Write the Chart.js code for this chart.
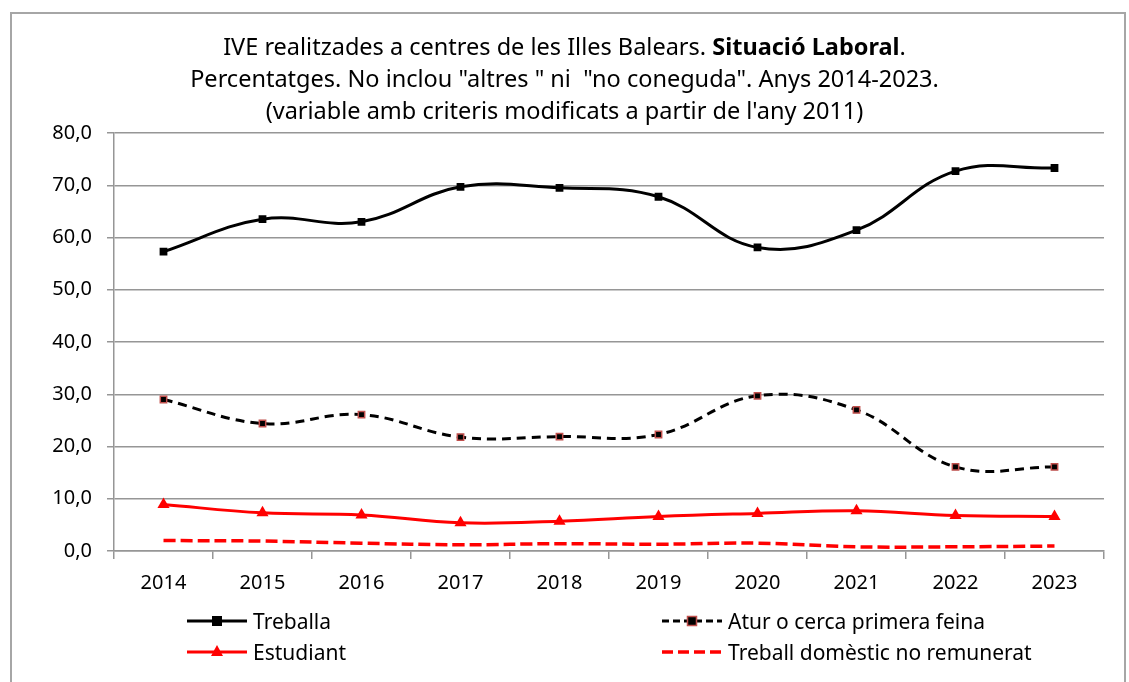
<!DOCTYPE html>
<html>
<head>
<meta charset="utf-8">
<script src="https://cdn.jsdelivr.net/npm/chart.js@4/dist/chart.umd.min.js"></script>
<style>
  html, body { margin: 0; padding: 0; background: #fff; }
  body { width: 1129px; height: 682px; position: relative; overflow: hidden; font-family: "Noto Sans", "Open Sans", sans-serif; color: #000; }
  #frame { position: absolute; left: 10px; top: 12px; width: 1116px; height: 700px; border: 2px solid #a6a6a6; box-sizing: border-box; }
  #title { position: absolute; left: 0; top: 30px; width: 1129px; text-align: center; font-size: 23.5px; line-height: 32px; }
  #chartBox { position: absolute; left: 0; top: 0; width: 1129px; height: 682px; }
  .legendItem { position: absolute; font-size: 21px; line-height: 24px; display: flex; align-items: center; white-space: nowrap; }
  .legendItem svg { margin-right: 6px; }
</style>
</head>
<body>
<div id="frame"></div>
<div id="chartBox"><canvas id="chart" width="1129" height="682"></canvas></div>
<div id="title">
  IVE realitzades a centres de les Illes Balears. <b>Situació Laboral</b>.<br>
  Percentatges. No inclou "altres " ni &nbsp;"no coneguda". Anys 2014-2023.<br>
  (variable amb criteris modificats a partir de l'any 2011)
</div>
<div id="legend"></div>
<script>
// categories and series (percentages)
const years = ['2014', '2015', '2016', '2017', '2018', '2019', '2020', '2021', '2022', '2023'];
const treballa = [57.3, 63.5, 63.0, 69.7, 69.5, 67.8, 58.1, 61.4, 72.7, 73.3];
const atur = [29.0, 24.4, 26.1, 21.8, 21.9, 22.3, 29.7, 27.0, 16.1, 16.1];
const estudiant = [8.9, 7.3, 6.9, 5.4, 5.7, 6.6, 7.2, 7.7, 6.8, 6.6];
const domestic = [2.0, 1.9, 1.5, 1.2, 1.4, 1.3, 1.5, 0.8, 0.8, 0.95];
const yTicks = [0, 10, 20, 30, 40, 50, 60, 70, 80];

const seriesNames = ['Treballa', 'Atur o cerca primera feina', 'Estudiant', 'Treball domèstic no remunerat'];

// format tick like 80,0
function toComma(v) {
  return Number(v).toFixed(1).replace('.', ',');
}

const ctx = document.getElementById('chart').getContext('2d');

new Chart(ctx, {
  type: 'line',
  data: {
    labels: years,
    datasets: [
      {
        label: seriesNames[0], data: treballa,
        borderColor: '#000', backgroundColor: '#000', borderWidth: 3,
        pointStyle: 'rect', pointRadius: 5.5, pointBorderWidth: 0,
        tension: 0.4
      },
      {
        label: seriesNames[1], data: atur,
        borderColor: '#000', backgroundColor: '#000', borderWidth: 3, borderDash: [9, 6],
        pointStyle: 'rect', pointRadius: 4.5, pointBorderColor: '#c0504d', pointBorderWidth: 1.5,
        tension: 0.4
      },
      {
        label: seriesNames[2], data: estudiant,
        borderColor: '#ff0000', backgroundColor: '#ff0000', borderWidth: 3,
        pointStyle: 'triangle', pointRadius: 7, pointBorderWidth: 0,
        tension: 0.4
      },
      {
        label: seriesNames[3], data: domestic,
        borderColor: '#ff0000', backgroundColor: '#ff0000', borderWidth: 3.5, borderDash: [12, 5],
        pointRadius: 0,
        tension: 0.4
      }
    ]
  },
  options: {
    responsive: false,
    devicePixelRatio: 1,
    animation: false,
    layout: { padding: { top: 133, left: 10, right: 25, bottom: 0 } },
    plugins: { legend: { display: false }, title: { display: false }, tooltip: { enabled: false } },
    scales: {
      x: {
        offset: true,
        grid: { offset: true, drawOnChartArea: false, drawTicks: true, tickLength: 8, color: '#969696', lineWidth: 1.5 },
        border: { color: '#969696', width: 1.5 },
        ticks: { color: '#000', font: { family: 'Noto Sans', size: 20 }, padding: 12, maxRotation: 0 },
        afterFit: (scale) => { scale.height = 131; }
      },
      y: {
        min: 0, max: 80,
        afterBuildTicks: (scale) => { scale.ticks = yTicks.map(v => ({ value: v })); },
        grid: { color: '#969696', lineWidth: 1.5, tickLength: 7 },
        border: { color: '#969696', width: 1.5 },
        ticks: { color: '#000', font: { family: 'Noto Sans', size: 20 }, padding: 15, callback: (v) => toComma(v) },
        afterFit: (scale) => { scale.width = 104; }
      }
    }
  }
});

// legend laid out in two columns like the reference
const legendSpots = [
  { left: 187, top: 609, name: seriesNames[0], kind: 'treballa' },
  { left: 662, top: 609, name: seriesNames[1], kind: 'atur' },
  { left: 187, top: 640, name: seriesNames[2], kind: 'estudiant' },
  { left: 662, top: 640, name: seriesNames[3], kind: 'domestic' }
];

function sampleSvg(kind) {
  let s = '<svg width="60" height="16" viewBox="0 0 60 16">';
  if (kind === 'treballa') {
    s += '<line x1="0" y1="8" x2="60" y2="8" stroke="#000" stroke-width="3"/>';
    s += '<rect x="25" y="3" width="10" height="10" fill="#000"/>';
  } else if (kind === 'atur') {
    s += '<line x1="0" y1="8" x2="60" y2="8" stroke="#000" stroke-width="3" stroke-dasharray="7,4"/>';
    s += '<rect x="25.5" y="3.5" width="9" height="9" fill="#000" stroke="#c0504d" stroke-width="1.5"/>';
  } else if (kind === 'estudiant') {
    s += '<line x1="0" y1="8" x2="60" y2="8" stroke="#ff0000" stroke-width="3"/>';
    s += '<polygon points="30,1 36,12 24,12" fill="#ff0000"/>';
  } else {
    s += '<line x1="0" y1="8" x2="60" y2="8" stroke="#ff0000" stroke-width="3.5" stroke-dasharray="11,5"/>';
  }
  return s + '</svg>';
}

const legendBox = document.getElementById('legend');
legendSpots.forEach((spot) => {
  const item = document.createElement('div');
  item.className = 'legendItem';
  item.style.left = spot.left + 'px';
  item.style.top = spot.top + 'px';
  item.innerHTML = sampleSvg(spot.kind) + '<span>' + spot.name + '</span>';
  legendBox.appendChild(item);
});
</script>
</body>
</html>
